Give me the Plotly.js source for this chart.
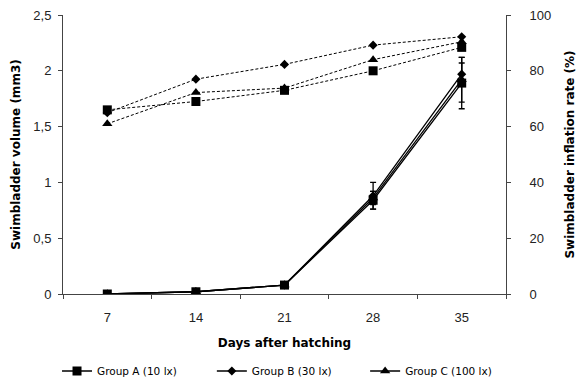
<!DOCTYPE html>
<html>
<head>
<meta charset="utf-8">
<script src="https://cdn.plot.ly/plotly-3.0.1.min.js"></script>
<style>
  html, body { margin: 0; padding: 0; background: #fff; }
  #chart { width: 583px; height: 380px; }
</style>
</head>
<body>
<div id="chart"></div>
<script>
// Days after hatching
const days = ['7', '14', '21', '28', '35'];

// Swimbladder volume (mm3), mean and standard error
const volA = [0.0, 0.02, 0.08, 0.84, 1.89];
const volB = [0.0, 0.02, 0.08, 0.88, 1.97];
const volC = [0.0, 0.02, 0.08, 0.86, 1.92];
const errA = [0, 0, 0, 0.08, 0.23];
const errB = [0, 0, 0, 0.12, 0.10];
const errC = [0, 0, 0, 0.06, 0.20];

// Swimbladder inflation rate (%)
const rateA = [66, 69, 73, 80, 88.4];
const rateB = [65, 77, 82.3, 89.2, 92.2];
const rateC = [61, 72.2, 73.8, 84, 90.4];

const groupNames = ['Group A (10 lx)', 'Group B (30 lx)', 'Group C (100 lx)'];
const symbols = ['square', 'diamond', 'triangle-up'];
const markerSizes = [9, 7, 9];
const legendIds = ['legend', 'legend2', 'legend3'];

const vols = [volA, volB, volC];
const errs = [errA, errB, errC];
const rates = [rateA, rateB, rateC];

const traces = [];
// dashed inflation-rate series on the right axis (drawn first, underneath)
// B first so the other markers sit on top of it
[1, 2, 0].forEach(function (i) {
  traces.push({
    x: days, y: rates[i], type: 'scatter', mode: 'lines+markers',
    name: groupNames[i], showlegend: false, xaxis: 'x', yaxis: 'y2',
    line: { color: '#000', width: 1, dash: '3px,2px' },
    marker: { symbol: symbols[i], size: markerSizes[i], color: '#000' }
  });
});
// solid volume series on the left axis, one legend each
for (let i = 0; i < 3; i++) {
  traces.push({
    x: days, y: vols[i], type: 'scatter', mode: 'lines+markers',
    name: groupNames[i], legend: legendIds[i], xaxis: 'x', yaxis: 'y',
    line: { color: '#000', width: 1.3 },
    marker: { symbol: symbols[i], size: markerSizes[i], color: '#000' },
    error_y: { type: 'data', array: errs[i], visible: true, color: '#000', thickness: 1.3, width: 3 }
  });
}

const axisColor = '#444';
const tickFont = { family: 'Liberation Sans, Arial, sans-serif', size: 13, color: '#222' };
const titleFont = { family: 'DejaVu Sans, Verdana, sans-serif', size: 12, color: '#000', weight: 'bold' };
const legendFont = { family: 'DejaVu Sans, Verdana, sans-serif', size: 10.5, color: '#000' };

function legendAt(x) {
  return { orientation: 'h', x: x, xanchor: 'left', y: -0.224, yanchor: 'top', font: legendFont };
}

const layout = {
  width: 583, height: 380,
  margin: { l: 63, r: 77, t: 15, b: 86, autoexpand: false },
  paper_bgcolor: '#fff', plot_bgcolor: '#fff',
  separators: ', ',
  showlegend: true,
  xaxis: {
    type: 'category', range: [-0.5, 4.5], automargin: false,
    showgrid: false, zeroline: false,
    showline: true, linecolor: axisColor, linewidth: 1,
    ticks: 'outside', tickson: 'boundaries', ticklen: 4, tickcolor: axisColor,
    tickfont: tickFont, ticklabelstandoff: 11,
    title: { text: 'Days after hatching', font: titleFont, standoff: 15 }
  },
  xaxis2: {
    overlaying: 'x', anchor: 'y', side: 'bottom', range: [-0.5, 4.5],
    showgrid: false, zeroline: false, showline: false,
    tickvals: [-0.5, 0.5, 1.5, 2.5, 3.5, 4.5],
    ticks: 'inside', ticklen: 4, tickcolor: axisColor, showticklabels: false
  },
  yaxis: {
    range: [0, 2.5], dtick: 0.5, tick0: 0, automargin: false,
    showgrid: false, zeroline: false,
    showline: true, linecolor: axisColor, linewidth: 1,
    ticks: 'outside', ticklen: 4, tickcolor: axisColor,
    tickfont: tickFont, tickformat: '.1~f', ticklabelstandoff: 4,
    title: { text: 'Swimbladder volume (mm3)', font: titleFont, standoff: 10 }
  },
  yaxis2: {
    overlaying: 'y', side: 'right', anchor: 'x',
    range: [0, 100], dtick: 20, automargin: false,
    showgrid: false, zeroline: false,
    showline: true, linecolor: axisColor, linewidth: 1,
    ticks: 'outside', ticklen: 4, tickcolor: axisColor,
    tickfont: tickFont, ticklabelstandoff: 16,
    title: { text: 'Swimbladder inflation rate (%)', font: titleFont, standoff: 15 }
  },
  yaxis3: {
    overlaying: 'y', side: 'left', anchor: 'x', range: [0, 2.5], dtick: 0.5,
    showgrid: false, zeroline: false, showline: false,
    ticks: 'inside', ticklen: 4, tickcolor: axisColor, showticklabels: false
  },
  yaxis4: {
    overlaying: 'y', side: 'right', anchor: 'x', range: [0, 100], dtick: 20,
    showgrid: false, zeroline: false, showline: false,
    ticks: 'inside', ticklen: 4, tickcolor: axisColor, showticklabels: false
  },
  legend: legendAt(-0.0135),
  legend2: legendAt(0.336),
  legend3: legendAt(0.682)
};

Plotly.newPlot('chart', traces, layout, { displayModeBar: false, staticPlot: true });
</script>
</body>
</html>
